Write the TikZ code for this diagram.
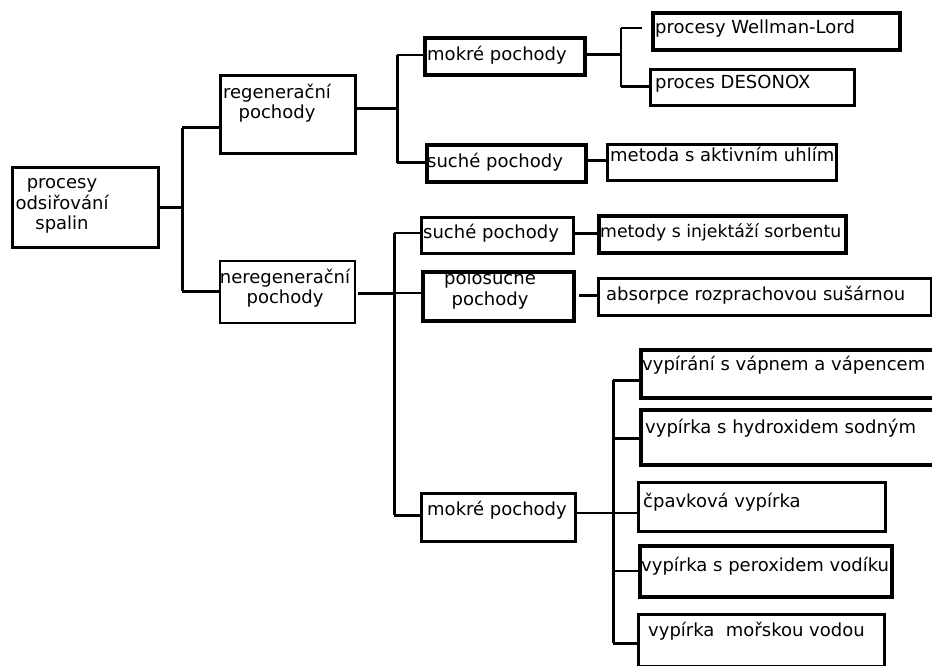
\documentclass[tikz,border=0pt]{standalone}
\usepackage{fontspec}
\setmainfont{DejaVu Sans}
\begin{document}
\begin{tikzpicture}[x=1pt,y=-1pt,
  box/.style={draw=black, line width=2.8pt, inner sep=0pt, anchor=north west},
  thickbox/.style={line width=3.8pt},
  thinbox/.style={line width=2.3pt},
  txt/.style={inner sep=0pt, anchor=west, font=\fontsize{18}{21}\selectfont},
  ctxt/.style={inner sep=0pt, align=center, font=\fontsize{18}{20.5}\selectfont},
  conn/.style={draw=black, line width=3pt},
  thinconn/.style={draw=black, line width=1.9pt}]
\clip (0,0) rectangle (932,666);
\fill[white] (0,0) rectangle (932,666);
\newcommand\mkbox[6]{\node[box,#6,minimum width={(#4-#2)*1pt},minimum height={(#5-#3)*1pt}] (#1) at (#2,#3) {};}
% boxes
\mkbox{root}{11}{166}{157}{246}{}
\mkbox{reg}{219}{74}{354}{152}{}
\mkbox{nereg}{219}{260}{354}{322}{thinbox}
\mkbox{mok1}{423}{36}{583}{73}{thickbox}
\mkbox{such1}{425}{143}{584}{180}{thickbox}
\mkbox{wl}{651}{11}{898}{48}{thickbox}
\mkbox{deso}{649}{68}{853}{104}{}
\mkbox{meto}{606}{143}{835}{179}{}
\mkbox{such2}{420}{216}{572}{252}{}
\mkbox{polo}{421}{270}{572}{319}{thickbox}
\mkbox{inj}{597}{214}{844}{251}{thickbox}
\mkbox{abs}{597}{277}{930}{314}{}
\mkbox{mok2}{420}{492}{574}{540}{}
\mkbox{va}{639}{348}{950}{396}{thickbox}
\mkbox{vb}{639}{408}{950}{463}{thickbox}
\mkbox{vc}{637}{481}{884}{530}{}
\mkbox{vd}{638}{544}{890}{595}{thickbox}
\mkbox{ve}{637}{613}{883}{665}{}
% texts
\node[ctxt] (rootT) at (62,206) {procesy\\odsiřování\\spalin};
\node[ctxt] (regT) at (277,103) {regenerační\\pochody};
\node[ctxt] (neregT) at (285,288) {neregenerační\\pochody};
\node[txt] (mok1T) at (427,55) {mokré pochody};
\node[txt] (such1T) at (427,162) {suché pochody};
\node[txt] (wlT) at (655,29) {procesy Wellman-Lord};
\node[txt] (desoT) at (655,84) {proces DESONOX};
\node[txt] (metoT) at (610,154) {metoda s aktivním uhlím};
\node[txt] (such2T) at (423,233) {suché pochody};
\node[ctxt] (poloT) at (490,290) {polosuche\\pochody};
\node[txt,font=\fontsize{17.3}{21}\selectfont] (injT) at (600,232) {metody s injektáží sorbentu};
\node[txt] (absT) at (606,295) {absorpce rozprachovou sušárnou};
\node[txt] (mok2T) at (427,510) {mokré pochody};
\node[txt] (vaT) at (642,365) {vypírání s vápnem a vápencem};
\node[txt] (vbT) at (645,428) {vypírka s hydroxidem sodným};
\node[txt] (vcT) at (643,502) {čpavková vypírka};
\node[txt] (vdT) at (641,566) {vypírka s peroxidem vodíku};
\node[txt] (veT) at (648,631) {vypírka \ mořskou vodou};
% level 1
\coordinate (a1) at (182,128);
\coordinate (a2) at (182,291);
\draw[conn] (root.east) -- (root.east -| a1);
\draw[conn] (a1) -- (a2);
\draw[conn] (a1) -- (a1 -| reg.west);
\draw[conn] (a2) -- (a2 -| nereg.west);
% regenerační
\coordinate (b0) at (397,109);
\coordinate (b1) at (397,55);
\coordinate (b2) at (397,163);
\draw[conn] (b0 -| reg.east) -- (b0);
\draw[conn] (b1) -- (b2);
\draw[thinconn] (b1) -- (b1 -| mok1.west);
\draw[conn] (b2) -- (b2 -| such1.west);
% mokré 1
\coordinate (c0) at (621,55);
\coordinate (c1) at (621,28);
\coordinate (c2) at (621,87);
\coordinate (c1e) at (642,28);
\draw[conn] (c0 -| mok1.east) -- (c0);
\draw[thinconn] (c1) -- (c2);
\draw[thinconn] (c1) -- (c1e);
\draw[conn] (c2) -- (c2 -| deso.west);
% suché 1
\coordinate (d0) at (595,161);
\draw[conn] (d0 -| such1.east) -- (d0 -| meto.west);
% neregenerační
\coordinate (e0) at (394,293);
\coordinate (e1) at (394,233);
\coordinate (e2) at (394,515);
\coordinate (e0s) at (358,293);
\draw[conn] (e0s) -- (e0);
\draw[conn] (e1) -- (e2);
\draw[thinconn] (e1) -- (e1 -| such2.west);
\draw[thinconn] (e0) -- (e0 -| polo.west);
\draw[conn] (e2) -- (e2 -| mok2.west);
% suché 2, polosuché
\draw[conn] (e1 -| such2.east) -- (e1 -| inj.west);
\coordinate (g0) at (579,295);
\draw[conn] (g0) -- (g0 -| abs.west);
% mokré 2
\coordinate (f0) at (613,513);
\coordinate (f1) at (613,380);
\coordinate (f2) at (613,643);
\coordinate (fb) at (613,438);
\coordinate (fd) at (613,571);
\draw[thinconn] (f0 -| mok2.east) -- (f0 -| vc.west);
\draw[conn] (f1) -- (f2);
\draw[conn] (f1) -- (f1 -| va.west);
\draw[conn] (fb) -- (fb -| vb.west);
\draw[thinconn] (fd) -- (fd -| vd.west);
\draw[conn] (f2) -- (f2 -| ve.west);
\end{tikzpicture}
\end{document}
